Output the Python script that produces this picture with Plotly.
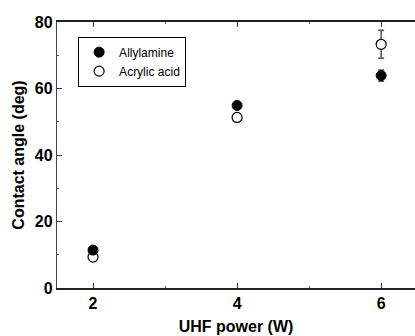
import plotly.graph_objects as go

power = [2, 4, 6]
allyl = [11.4, 54.9, 63.9]
allyl_err = [0.6, 0.8, 1.7]
acryl = [9.3, 51.3, 73.3]
acryl_err = [0.5, 0.7, 4.2]
x_ticks = [2, 4, 6]
y_ticks = [0, 20, 40, 60, 80]

FAM = "Liberation Sans, Arial, sans-serif"
font_b = dict(family=FAM, size=16, color="black", weight="bold")

fig = go.Figure()
fig.add_trace(go.Scatter(
    x=power, y=acryl, mode="markers", name="Acrylic acid",
    marker=dict(symbol="circle", size=10, color="white", line=dict(color="black", width=1.2)),
    error_y=dict(type="data", array=acryl_err, color="#555555", thickness=1.5, width=3),
))
fig.add_trace(go.Scatter(
    x=power, y=allyl, mode="markers", name="Allylamine",
    marker=dict(symbol="circle", size=10, color="black", line=dict(color="black", width=1)),
    error_y=dict(type="data", array=allyl_err, color="#555555", thickness=1.5, width=3),
))

fig.update_layout(
    width=415, height=336,
    margin=dict(l=57, r=0, t=22, b=48, autoexpand=False),
    paper_bgcolor="white", plot_bgcolor="white",
    showlegend=True,
    legend=dict(
        x=0.059, y=0.945, xanchor="left", yanchor="top",
        traceorder="reversed",
        bordercolor="black", borderwidth=1, bgcolor="white",
        font=dict(family=FAM, size=12, color="black"),
        itemwidth=30, tracegroupgap=0,
    ),
    xaxis=dict(
        range=[1.5, 6.47], tickvals=x_ticks, ticktext=[str(v) for v in x_ticks],
        ticks="inside", ticklen=5, tickwidth=1.2, tickcolor="#333",
        minor=dict(tickvals=[3, 5], ticks="inside", ticklen=2, tickwidth=1, tickcolor="#555"),
        showline=True, linecolor="#222", linewidth=1.5, mirror="ticks",
        showgrid=False, zeroline=False, automargin=False,
        tickfont=font_b,
        title=dict(text="UHF power (W)", font=font_b, standoff=10),
    ),
    yaxis=dict(
        range=[0, 80], tickvals=y_ticks,
        ticks="inside", ticklen=5, tickwidth=1.2, tickcolor="#333",
        minor=dict(tickvals=[10, 30, 50, 70], ticks="inside", ticklen=2, tickwidth=1, tickcolor="#555"),
        showline=True, linecolor="#444", linewidth=1.3, mirror=False,
        showgrid=False, zeroline=False, automargin=False,
        tickfont=font_b,
        title=dict(text="Contact angle (deg)", font=font_b, standoff=6),
    ),
)

fig.write_html("out.html", config={"displayModeBar": False},
               post_script="document.body.style.margin='0';document.body.style.overflow='hidden';")
